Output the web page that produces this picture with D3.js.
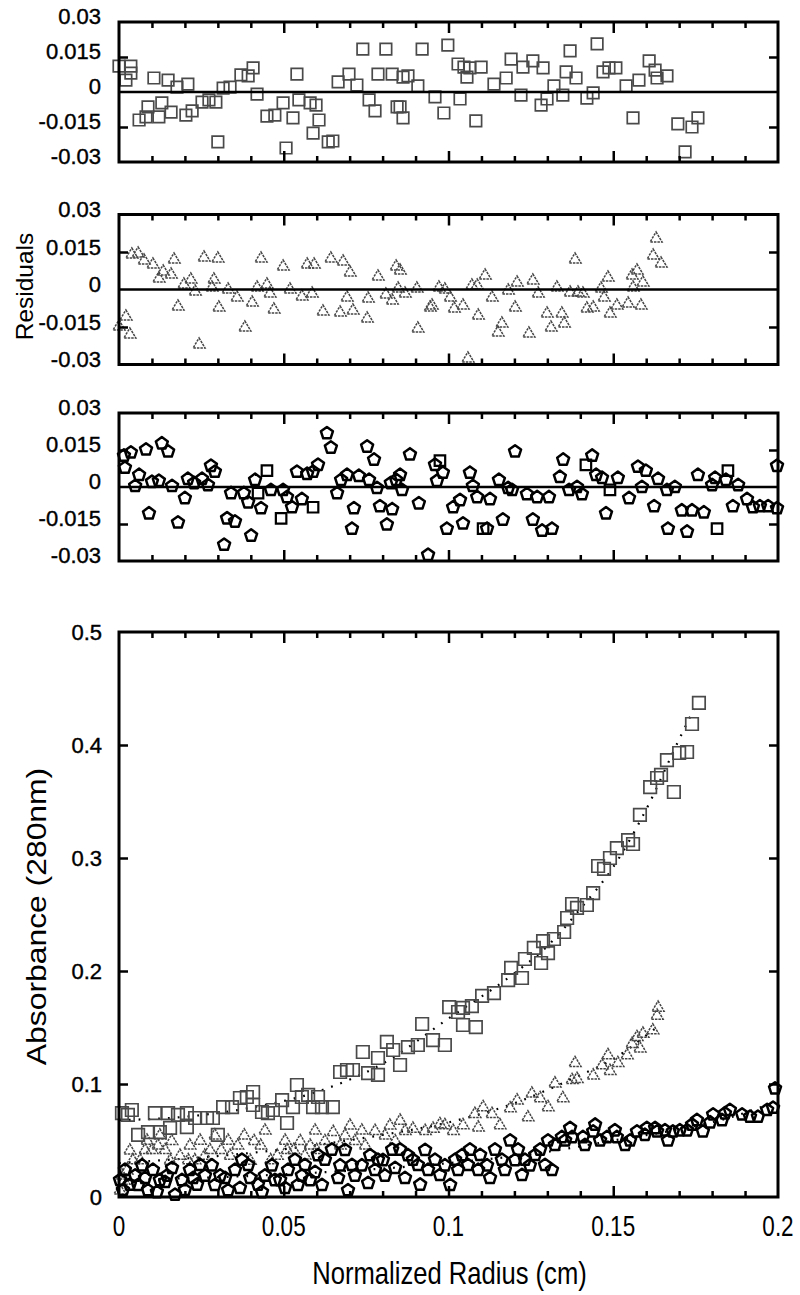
<!DOCTYPE html>
<html><head><meta charset="utf-8">
<script src="https://cdn.jsdelivr.net/npm/d3@7"></script>
<style>
body{margin:0;background:#fff}
svg{display:block}
text{font-family:"Liberation Sans",Arial,sans-serif;fill:#000}
</style></head><body>
<svg id="chart" width="800" height="1295"></svg>
<script>
// ---------- axes / labels ----------
const xDomain = [0, 0.2];
const xMajorTicks = [0, 0.05, 0.1, 0.15, 0.2];
const xTickLabels = ["0", "0.05", "0.1", "0.15", "0.2"];
const xMinorTicks = [0.01,0.02,0.03,0.04,0.06,0.07,0.08,0.09,0.11,0.12,0.13,0.14,0.16,0.17,0.18,0.19];
const resDomain = [-0.03, 0.03];
const resTicks = [0.03, 0.015, 0, -0.015, -0.03];
const resTickLabels = ["0.03", "0.015", "0", "-0.015", "-0.03"];
const resInnerTicks = [0.015, -0.015];
const absDomain = [0, 0.5];
const absTicks = [0, 0.1, 0.2, 0.3, 0.4, 0.5];
const absTickLabels = ["0", "0.1", "0.2", "0.3", "0.4", "0.5"];
const absInnerTicks = [0.1, 0.2, 0.3, 0.4];
const xTitle = "Normalized Radius (cm)";
const resTitle = "Residuals";
const absTitle = "Absorbance (280nm)";

// ---------- residuals, panel 1 (squares) ----------
const res1Squares = [
[0.000,0.0111],[0.0036,0.0111],[0.0021,0.0051],[0.0036,0.0081],[0.0106,0.0060],[0.0149,0.0051],[0.0176,0.0021],[0.0209,0.0034],
[0.0061,-0.0120],[0.0088,-0.0064],[0.0082,-0.0107],[0.0121,-0.0107],[0.0130,-0.0047],[0.0158,-0.0086],[0.0203,-0.0099],[0.0222,-0.0081],
[0.0252,-0.0043],[0.0273,-0.0034],[0.0294,-0.0043],[0.0300,-0.0214],[0.0316,0.0017],[0.0337,0.0021],[0.0370,0.0073],[0.0392,0.0069],
[0.0407,0.0103],[0.0419,-0.0009],[0.0449,-0.0103],[0.0473,-0.0099],[0.0498,-0.0047],[0.0507,-0.0240],[0.0528,-0.0111],[0.0540,0.0077],
[0.0546,-0.0034],[0.0580,-0.0047],[0.0598,-0.0056],[0.0589,-0.0176],[0.0607,-0.0120],[0.0635,-0.0214],[0.0649,-0.0210],[0.0665,0.0043],
[0.0698,0.0077],[0.0722,0.0030],[0.0740,0.0184],[0.0759,-0.0034],[0.0777,-0.0081],[0.0786,0.0077],[0.0810,0.0184],[0.0829,0.0077],
[0.0844,-0.0064],[0.0862,0.0064],[0.0877,0.0069],[0.0862,-0.0111],[0.0853,-0.0064],[0.0907,0.0026],[0.0920,0.0184],[0.0959,-0.0021],
[0.0986,-0.0090],[0.0998,0.0201],[0.1029,0.0120],[0.1035,-0.0030],[0.1047,0.0107],[0.1056,0.0064],[0.1065,0.0103],[0.1099,0.0107],
[0.1083,-0.0124],[0.1138,0.0034],[0.1175,0.0060],[0.1190,0.0141],[0.1220,-0.0013],[0.1226,0.0107],[0.1256,0.0133],[0.1281,-0.0056],
[0.1287,0.0103],[0.1299,-0.0030],[0.1320,0.0026],[0.1347,-0.0013],[0.1357,0.0086],[0.1369,0.0176],[0.1387,0.0060],[0.1420,-0.0026],
[0.1439,-0.0004],[0.1451,0.0206],[0.1469,0.0086],[0.1487,0.0103],[0.1508,0.0103],[0.1539,0.0026],[0.1560,-0.0111],[0.1578,0.0051],
[0.1609,0.0133],[0.1627,0.0094],[0.1633,0.0060],[0.1663,0.0069],[0.1696,-0.0137],[0.1718,-0.0257],[0.1739,-0.0150],[0.1757,-0.0111]
];

// ---------- residuals, panel 2 (triangles) ----------
const res2Triangles = [
[0.000,-0.0146],[0.0021,-0.0106],[0.0033,-0.0178],[0.0039,0.0142],[0.0058,0.0146],[0.0076,0.0118],[0.0103,0.0102],[0.0121,0.0046],
[0.0134,0.0074],[0.0158,0.0062],[0.0167,0.0122],[0.0179,-0.0066],[0.0197,0.0022],[0.0218,0.0042],[0.0231,-0.0006],[0.0243,-0.0218],
[0.0258,0.0130],[0.0282,0.0010],[0.0288,0.0042],[0.0300,0.0126],[0.0303,-0.0070],[0.0331,0.0002],[0.0358,-0.0030],[0.0382,-0.0150],
[0.0404,-0.0050],[0.0419,0.0010],[0.0431,0.0126],[0.0449,0.0022],[0.0458,-0.0014],[0.0470,-0.0078],[0.0498,0.0094],[0.0519,0.0002],
[0.0555,-0.0026],[0.0571,0.0102],[0.0586,-0.0014],[0.0592,0.0102],[0.0619,-0.0086],[0.0643,0.0126],[0.0671,-0.0090],[0.0680,0.0114],
[0.0692,-0.0030],[0.0701,0.0070],[0.0710,-0.0082],[0.0753,-0.0114],[0.0756,-0.0034],[0.0786,0.0054],[0.0810,-0.0018],[0.0829,-0.0042],
[0.0841,0.0094],[0.0847,0.0006],[0.0853,0.0078],[0.0868,-0.0014],[0.0904,0.0006],[0.0907,-0.0154],[0.0944,-0.0070],[0.0950,-0.0062],
[0.0971,0.0010],[0.0989,0.0002],[0.1005,-0.0030],[0.1017,-0.0074],[0.1044,-0.0062],[0.1059,-0.0274],[0.1071,0.0018],[0.1087,0.0018],
[0.1090,-0.0102],[0.1111,0.0058],[0.1132,-0.0030],[0.1150,-0.0170],[0.1162,-0.0134],[0.1181,-0.0002],[0.1202,-0.0070],[0.1208,0.0030],
[0.1244,-0.0174],[0.1256,0.0038],[0.1272,-0.0014],[0.1299,-0.0094],[0.1311,-0.0150],[0.1329,0.0010],[0.1344,-0.0094],[0.1351,-0.0134],
[0.1369,-0.0010],[0.1384,0.0122],[0.1393,-0.0010],[0.1408,-0.0014],[0.1420,-0.0074],[0.1439,-0.0070],[0.1463,0.0006],[0.1472,-0.0030],
[0.1484,0.0050],[0.1490,-0.0094],[0.1511,-0.0062],[0.1545,-0.0054],[0.1557,0.0058],[0.1560,0.0010],[0.1572,0.0078],[0.1584,-0.0062],
[0.1590,0.0030],[0.1621,0.0138],[0.1630,0.0206],[0.1645,0.0106]
];

// ---------- residuals, panel 3 (pentagons, a few squares) ----------
const res3Pentagons = [
[0.0018,0.0078],[0.0015,0.0127],[0.0036,0.0140],[0.0049,0.0004],[0.0061,0.0049],[0.0082,0.0152],[0.0091,-0.0107],[0.0100,0.0021],
[0.0121,0.0025],[0.0130,0.0177],[0.0149,0.0144],[0.0161,0.0004],[0.0179,-0.0144],[0.0200,-0.0045],[0.0209,0.0033],[0.0228,0.0016],
[0.0252,0.0033],[0.0270,0.0008],[0.0279,0.0086],[0.0291,0.0062],[0.0319,-0.0234],[0.0328,-0.0127],[0.0340,-0.0025],[0.0352,-0.0140],
[0.0379,-0.0025],[0.0392,-0.0062],[0.0401,-0.0197],[0.0413,0.0029],[0.0431,-0.0086],[0.0461,-0.0012],[0.0498,-0.0012],[0.0510,-0.0041],
[0.0525,-0.0082],[0.0540,0.0062],[0.0555,-0.0049],[0.0571,0.0053],[0.0589,0.0062],[0.0604,0.0090],[0.0631,0.0218],[0.0643,0.0160],
[0.0662,-0.0025],[0.0674,0.0029],[0.0692,0.0049],[0.0707,-0.0169],[0.0713,-0.0086],[0.0728,0.0045],[0.0753,0.0164],[0.0759,0.0029],
[0.0774,0.0111],[0.0783,-0.0004],[0.0792,-0.0078],[0.0813,-0.0152],[0.0825,0.0016],[0.0829,-0.0090],[0.0841,0.0029],[0.0853,0.0049],
[0.0859,-0.0012],[0.0883,0.0132],[0.0910,-0.0066],[0.0938,-0.0275],[0.0959,0.0090],[0.0965,0.0025],[0.0983,0.0058],[0.0995,-0.0169],
[0.1014,-0.0082],[0.1035,-0.0053],[0.1044,-0.0148],[0.1065,0.0058],[0.1074,0.0004],[0.1087,-0.0041],[0.1117,-0.0169],[0.1126,-0.0049],
[0.1153,0.0029],[0.1165,-0.0132],[0.1181,-0.0004],[0.1193,-0.0012],[0.1202,0.0144],[0.1238,-0.0029],[0.1256,-0.0132],[0.1269,-0.0041],
[0.1284,-0.0177],[0.1305,-0.0041],[0.1314,-0.0169],[0.1338,0.0041],[0.1348,0.0111],[0.1366,-0.0012],[0.1390,0.0000],[0.1405,-0.0029],
[0.1436,0.0127],[0.1448,0.0049],[0.1466,0.0037],[0.1478,-0.0107],[0.1514,0.0037],[0.1548,-0.0045],[0.1575,0.0082],[0.1587,0.0000],
[0.1599,0.0066],[0.1624,-0.0078],[0.1636,0.0033],[0.1663,-0.0012],[0.1666,-0.0169],[0.1687,0.0000],[0.1708,-0.0095],[0.1724,-0.0181],
[0.1739,-0.0095],[0.1757,0.0049],[0.1775,-0.0103],[0.1800,0.0008],[0.1809,0.0037],[0.1842,0.0029],[0.1863,-0.0078],[0.1879,0.0008],
[0.1906,-0.0049],[0.1924,-0.0082],[0.1945,-0.0078],[0.1970,-0.0078],[0.1997,-0.0086],[0.1997,0.0086]
];
const res3Squares = [
[0.0422,-0.0025],[0.0449,0.0066],[0.0492,-0.0127],[0.0589,-0.0082],[0.0974,0.0107],[0.1105,-0.0169],[0.1417,0.0090],[0.1490,-0.0012],
[0.1815,-0.0169],[0.1848,0.0066]
];

// ---------- absorbance, bottom panel ----------
const absSquares = [
[0.0009,0.0743],[0.0027,0.0726],[0.0039,0.0770],[0.0058,0.0549],[0.0088,0.0575],[0.0109,0.0743],[0.0124,0.0575],[0.0149,0.0743],
[0.0155,0.0611],[0.0179,0.0726],[0.0206,0.0743],[0.0206,0.0619],[0.0231,0.0699],[0.0267,0.0699],[0.0285,0.0699],[0.0300,0.0549],
[0.0316,0.0796],[0.0343,0.0796],[0.0367,0.0876],[0.0388,0.0885],[0.0407,0.0929],[0.0407,0.0814],[0.0434,0.0752],[0.0452,0.0743],
[0.0467,0.0770],[0.0495,0.0858],[0.0510,0.0655],[0.0528,0.0796],[0.0540,0.0991],[0.0555,0.0885],[0.0574,0.0903],[0.0589,0.0796],
[0.0604,0.0885],[0.0616,0.0796],[0.0649,0.0796],[0.0671,0.1106],[0.0692,0.1124],[0.0710,0.1124],[0.0740,0.1283],[0.0756,0.1097],
[0.0786,0.1230],[0.0786,0.1080],[0.0813,0.1372],[0.0832,0.1301],[0.0853,0.1168],[0.0877,0.1327],[0.0907,0.1345],[0.0920,0.1531],
[0.0953,0.1389],[0.0989,0.1345],[0.1002,0.1681],[0.1029,0.1637],[0.1044,0.1673],[0.1044,0.1522],[0.1071,0.1690],[0.1083,0.1504],
[0.1102,0.1779],[0.1138,0.1805],[0.1181,0.1920],[0.1190,0.2027],[0.1223,0.1938],[0.1232,0.2106],[0.1259,0.2204],[0.1281,0.2071],
[0.1302,0.2159],[0.1287,0.2265],[0.1320,0.2283],[0.1351,0.2345],[0.1360,0.2469],[0.1375,0.2593],[0.1390,0.2558],[0.1420,0.2584],
[0.1439,0.2690],[0.1454,0.2929],[0.1472,0.2903],[0.1490,0.3000],[0.1511,0.3088],[0.1545,0.3159],[0.1560,0.3124],[0.1581,0.3381],
[0.1612,0.3628],[0.1633,0.3708],[0.1645,0.3735],[0.1663,0.3867],[0.1684,0.3584],[0.1700,0.3929],[0.1724,0.3938],[0.1739,0.4186],
[0.1760,0.4372]
];
const absTriangles = [
[0.0003,0.0062],[0.0015,0.015],[0.0024,0.024],[0.0042,0.033],[0.0064,0.033],[0.0079,0.042],[0.010,0.042],[0.0118,0.046],
[0.014,0.042],[0.016,0.050],[0.0185,0.037],[0.021,0.033],[0.023,0.033],[0.026,0.037],[0.0276,0.042],[0.031,0.042],
[0.0337,0.037],[0.036,0.046],[0.038,0.055],[0.041,0.050],[0.043,0.046],[0.046,0.033],[0.048,0.037],[0.051,0.042],
[0.053,0.042],[0.055,0.050],[0.058,0.046],[0.060,0.042],[0.0625,0.050],[0.065,0.058],[0.0686,0.055],[0.0716,0.050],
[0.0747,0.046],[0.0777,0.059],[0.0807,0.055],[0.0838,0.050],[0.0868,0.059],[0.0892,0.061],[0.0929,0.059],[0.0953,0.061],
[0.0974,0.065],[0.0989,0.064],[0.1014,0.059],[0.1044,0.064],[0.108,0.074],[0.109,0.062],[0.1105,0.080],[0.1132,0.074],
[0.1156,0.064],[0.1187,0.079],[0.1208,0.086],[0.1241,0.071],[0.1253,0.092],[0.1278,0.088],[0.1302,0.080],[0.1323,0.101],
[0.1347,0.088],[0.1375,0.104],[0.1384,0.119],[0.139,0.105],[0.1439,0.108],[0.1466,0.117],[0.1484,0.126],[0.149,0.112],
[0.1514,0.119],[0.1542,0.126],[0.1557,0.136],[0.1572,0.142],[0.1581,0.132],[0.159,0.145],[0.162,0.148],[0.1633,0.161],
[0.1636,0.168],
[0.0009,0.0195],[0.0033,0.0416],[0.0085,0.0504],[0.0124,0.0549],[0.0155,0.0327],[0.0215,0.0460],[0.0246,0.0504],[0.0291,0.0549],
[0.0331,0.0504],[0.0398,0.0327],[0.0443,0.0593],[0.0504,0.0504],[0.0564,0.0372],[0.0595,0.0593],[0.0671,0.0460],[0.0701,0.0637],
[0.0737,0.0593],[0.0822,0.0637],[0.0853,0.0681]
];
const absPentagons = [
[0.0003,0.015],[0.0018,0.024],[0.0033,0.011],[0.0049,0.019],[0.007,0.028],[0.0088,0.006],[0.0103,0.024],[0.0124,0.015],
[0.0146,0.019],[0.017,0.002],[0.0191,0.015],[0.0215,0.024],[0.0237,0.011],[0.0261,0.019],[0.0282,0.028],[0.0307,0.019],
[0.0331,0.006],[0.0352,0.024],[0.0373,0.033],[0.0398,0.017],[0.0422,0.011],[0.0443,0.019],[0.0464,0.028],[0.0489,0.015],
[0.0513,0.024],[0.0534,0.033],[0.0555,0.019],[0.058,0.015],[0.0604,0.037],[0.0625,0.033],[0.0646,0.042],[0.0671,0.028],
[0.0695,0.006],[0.0716,0.019],[0.0737,0.028],[0.0762,0.037],[0.0786,0.033],[0.0807,0.019],[0.0829,0.042],[0.0853,0.042],
[0.0877,0.037],[0.0892,0.033],[0.0914,0.011],[0.0938,0.024],[0.0959,0.033],[0.0989,0.028],[0.102,0.033],[0.1041,0.037],
[0.1065,0.042],[0.109,0.024],[0.1117,0.028],[0.1141,0.042],[0.1162,0.033],[0.1187,0.050],[0.1211,0.042],[0.1232,0.033],
[0.1247,0.028],[0.1278,0.042],[0.1302,0.050],[0.1323,0.046],[0.1344,0.053],[0.1354,0.050],[0.1375,0.053],[0.1408,0.053],
[0.1439,0.058],[0.146,0.050],[0.1481,0.053],[0.1511,0.053],[0.1536,0.046],[0.1572,0.058],[0.1602,0.061],[0.1633,0.058],
[0.1657,0.059],[0.1681,0.058],[0.1724,0.059],[0.1754,0.068],[0.1772,0.058],[0.1794,0.066],[0.1803,0.073],[0.183,0.068],
[0.1839,0.074],[0.1854,0.077],[0.1891,0.073],[0.1915,0.071],[0.1939,0.071],[0.1967,0.077],[0.1985,0.079],[0.1991,0.096],
[0.0012,0.0062],[0.0058,0.0106],[0.0079,0.0168],[0.0115,0.0044],[0.0140,0.0133],[0.0161,0.0257],[0.0200,0.0062],[0.0225,0.0168],
[0.0246,0.0283],[0.0291,0.0106],[0.0322,0.0168],[0.0367,0.0080],[0.0392,0.0283],[0.0434,0.0044],[0.0473,0.0150],[0.0504,0.0080],
[0.0543,0.0106],[0.0564,0.0283],[0.0595,0.0221],[0.0616,0.0106],[0.0665,0.0168],[0.0686,0.0416],[0.0707,0.0283],[0.0756,0.0124],
[0.0777,0.0239],[0.0801,0.0327],[0.0838,0.0257],[0.0868,0.0168],[0.0907,0.0283],[0.0929,0.0416],[0.0974,0.0195],[0.1005,0.0106],
[0.1029,0.0239],[0.1059,0.0283],[0.1096,0.0372],[0.1126,0.0168],[0.1171,0.0239],[0.1202,0.0327],[0.1223,0.0195],[0.1263,0.0372],
[0.1293,0.0283],[0.1314,0.0239],[0.1369,0.061],[0.1414,0.046],[0.1445,0.064],[0.1505,0.059],[0.1551,0.050],[0.1596,0.055],
[0.1627,0.061],[0.1666,0.050],[0.1702,0.059],[0.1739,0.064]
];
// fitted curves (dotted)
const fitSquaresX = [0, 0.02, 0.04, 0.06, 0.08, 0.1, 0.12, 0.13, 0.14, 0.15, 0.16, 0.17, 0.1745];
const fitSquaresY = [0.068, 0.071, 0.079, 0.093, 0.118, 0.158, 0.198, 0.222, 0.255, 0.292, 0.343, 0.405, 0.432];
const fitTrianglesX = [0, 0.02, 0.04, 0.06, 0.08, 0.1, 0.12, 0.14, 0.15, 0.16, 0.164];
const fitTrianglesY = [0.030, 0.034, 0.039, 0.046, 0.055, 0.066, 0.083, 0.108, 0.122, 0.143, 0.152];
const fitPentagonsX = [0, 0.05, 0.1, 0.13, 0.15, 0.17, 0.185, 0.2];
const fitPentagonsY = [0.015, 0.020, 0.030, 0.040, 0.050, 0.060, 0.070, 0.085];

// ---------- drawing ----------
const svg = d3.select("#chart");
const X0 = 119, X1 = 778;
const x = d3.scaleLinear().domain(xDomain).range([X0, X1]);
const panels = [
  {top: 22, bottom: 162},
  {top: 214.5, bottom: 364.5},
  {top: 413, bottom: 561},
  {top: 632, bottom: 1197}
];

const squareCol = "#4a4a4a", triCol = "#444", pentCol = "#000";

function sqPath(s){ const h=s/2; return `M${-h},${-h}H${h}V${h}H${-h}Z`; }
function triPath(w, h){ return `M0,${-h*0.6}L${w/2},${h*0.4}L${-w/2},${h*0.4}Z`; }
function pentPath(r){ let p=""; for(let i=0;i<5;i++){const a=-Math.PI/2+i*2*Math.PI/5; p+=(i?"L":"M")+(r*Math.cos(a)).toFixed(2)+","+(r*Math.sin(a)).toFixed(2);} return p+"Z"; }

function drawPoints(g, data, y, kind, size){
  const sel = g.append("g").selectAll("path").data(data).join("path")
    .attr("transform", d => `translate(${x(d[0])},${y(d[1])})`)
    .attr("fill", "none");
  if(kind==="sq") sel.attr("d", sqPath(size)).attr("stroke", squareCol).attr("stroke-width", 1.7);
  if(kind==="sqk") sel.attr("d", sqPath(size)).attr("stroke", "#000").attr("stroke-width", 2.2);
  if(kind==="tri") sel.attr("d", triPath(size, size*0.85)).attr("stroke", triCol).attr("stroke-width", 1.5).attr("stroke-dasharray","2.5,1");
  if(kind==="pent") sel.attr("d", pentPath(size)).attr("stroke", pentCol).attr("stroke-width", 2.5).attr("stroke-linejoin","round");
}

function styleAxis(s){ s.select(".domain").remove(); s.selectAll("line").attr("stroke","#000").attr("stroke-width",2.5); }
function xTicks(g, p){
  const ax = (gen, yy, len, vals) => g.append("g").attr("transform", `translate(0,${yy})`)
    .call(gen(x).tickValues(vals).tickSize(-len).tickFormat("")).call(styleAxis);
  ax(d3.axisBottom, p.bottom, 6, xMinorTicks);
  ax(d3.axisBottom, p.bottom, 11, xMajorTicks.slice(1,-1));
  ax(d3.axisTop, p.top, 6, xMinorTicks);
  ax(d3.axisTop, p.top, 11, xMajorTicks.slice(1,-1));
}
function yTicks(g, y, vals){
  g.append("g").attr("transform", `translate(${X0},0)`)
    .call(d3.axisLeft(y).tickValues(vals).tickSize(-9).tickFormat("")).call(styleAxis);
  g.append("g").attr("transform", `translate(${X1},0)`)
    .call(d3.axisRight(y).tickValues(vals).tickSize(-9).tickFormat("")).call(styleAxis);
}
function frame(g, p){
  g.append("rect").attr("x", X0).attr("y", p.top).attr("width", X1-X0).attr("height", p.bottom-p.top)
   .attr("fill","none").attr("stroke","#000").attr("stroke-width",3);
}

// residual panels
const resData = [
  [{d: res1Squares, k: "sq", s: 11.5}],
  [{d: res2Triangles, k: "tri", s: 12}],
  [{d: res3Squares, k: "sqk", s: 10.5}, {d: res3Pentagons, k: "pent", s: 6.3}]
];
const labelOffset = [-6, -5, -6];
panels.slice(0,3).forEach((p, i) => {
  const g = svg.append("g");
  const y = d3.scaleLinear().domain(resDomain).range([p.bottom, p.top]);
  resData[i].forEach(s => drawPoints(g, s.d, y, s.k, s.s));
  g.append("line").attr("x1", X0).attr("x2", X1).attr("y1", y(0)).attr("y2", y(0))
    .attr("stroke","#000").attr("stroke-width",2.5);
  xTicks(g, p);
  yTicks(g, y, resInnerTicks);
  frame(g, p);
  g.append("g").selectAll("text").data(resTicks).join("text")
    .attr("x", 101).attr("y", d => y(d) + labelOffset[i])
    .attr("text-anchor","end").attr("dominant-baseline","central")
    .attr("font-size", 22).attr("stroke","#000").attr("stroke-width",0.4)
    .text((d, j) => resTickLabels[j]);
});

// bottom panel
{
  const p = panels[3];
  const g = svg.append("g");
  const y = d3.scaleLinear().domain(absDomain).range([p.bottom, p.top]);
  const fitLine = d3.line().x(d => x(d[0])).y(d => y(d[1])).curve(d3.curveMonotoneX);
  [[fitSquaresX, fitSquaresY],[fitTrianglesX, fitTrianglesY],[fitPentagonsX, fitPentagonsY]].forEach(([fx, fy]) => {
    g.append("path").attr("d", fitLine(fx.map((v,i)=>[v, fy[i]])))
      .attr("fill","none").attr("stroke","#000").attr("stroke-width",2.2)
      .attr("stroke-dasharray","1.8,8").attr("stroke-linecap","butt");
  });
  drawPoints(g, absTriangles, y, "tri", 12);
  drawPoints(g, absSquares, y, "sq", 12.5);
  drawPoints(g, absPentagons, y, "pent", 6.3);
  xTicks(g, p);
  yTicks(g, y, absInnerTicks);
  frame(g, p);
  g.append("g").selectAll("text").data(absTicks).join("text")
    .attr("x", 102).attr("y", d => y(d))
    .attr("text-anchor","end").attr("dominant-baseline","central")
    .attr("font-size", 22).attr("stroke","#000").attr("stroke-width",0.4)
    .text((d, j) => absTickLabels[j]);
  // x tick labels (vertically stretched as in the original)
  g.append("g").selectAll("text").data(xMajorTicks).join("text")
    .attr("transform", d => `translate(${x(d)},${1226}) scale(1,1.3)`)
    .attr("text-anchor","middle").attr("dominant-baseline","central")
    .attr("font-size", 22.5).text((d, j) => xTickLabels[j]);
  svg.append("text").attr("transform", `translate(${(X0+X1)/2 + 1},1273) scale(1,1.25)`)
    .attr("text-anchor","middle").attr("dominant-baseline","central")
    .attr("font-size", 25.6).text(xTitle);
  svg.append("text").attr("transform", `translate(36,${(p.top+p.bottom)/2 + 2}) rotate(-90) scale(1.18,1)`)
    .attr("text-anchor","middle").attr("dominant-baseline","central")
    .attr("font-size", 27).text(absTitle);
}
svg.append("text").attr("transform", `translate(24,${(panels[1].top+panels[1].bottom)/2 - 3}) rotate(-90)`)
  .attr("text-anchor","middle").attr("dominant-baseline","central")
  .attr("font-size", 24.5).text(resTitle);
</script>
</body></html>
